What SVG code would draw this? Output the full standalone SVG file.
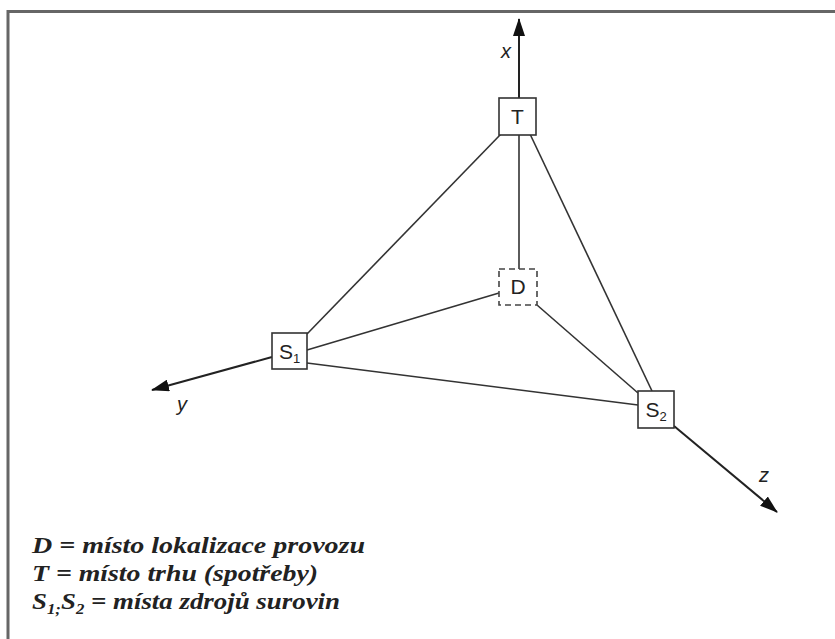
<svg xmlns="http://www.w3.org/2000/svg" width="835" height="639" viewBox="0 0 835 639">
<style>
.box{fill:#fff;stroke:#333;stroke-width:1.6}
.dbox{fill:#fff;stroke:#444;stroke-width:1.6;stroke-dasharray:6 4}
.lbl{font-family:"Liberation Sans",Arial,sans-serif;font-size:21px;fill:#222;text-anchor:middle}
.sub{font-size:13px}
.ax{font-family:"Liberation Sans",Arial,sans-serif;font-size:20px;font-style:italic;fill:#222}
.edge{stroke:#333;stroke-width:1.6;fill:none}
.axis{stroke:#222;stroke-width:2;fill:none}
.leg{font-family:"Liberation Serif","Times New Roman",serif;font-size:24px;font-style:italic;font-weight:bold;fill:#222}
</style>
<defs>
<marker id="arrL" markerWidth="18" markerHeight="12" refX="17" refY="6" orient="auto" markerUnits="userSpaceOnUse" viewBox="0 0 18 12">
<path d="M0,0 L18,6 L0,12 Z" fill="#111"/>
</marker>
</defs>
<rect width="835" height="639" fill="#fff"/>
<path d="M8,639 V11.5 H835" fill="none" stroke="#666" stroke-width="3"/>
<g id="connectors">
<line class="axis" x1="519" y1="98" x2="519" y2="19" marker-end="url(#arrL)"/>
<line class="axis" x1="272" y1="357" x2="152" y2="390" marker-end="url(#arrL)"/>
<line class="axis" x1="674" y1="426" x2="777" y2="512" marker-end="url(#arrL)"/>
<line class="edge" x1="519" y1="134" x2="519" y2="269" stroke="#777"/>
<line class="edge" x1="501" y1="134" x2="307" y2="334"/>
<line class="edge" x1="530" y1="134" x2="652" y2="391"/>
<line class="edge" x1="499" y1="293" x2="307" y2="350"/>
<line class="edge" x1="537" y1="305" x2="638" y2="393"/>
<line class="edge" x1="307" y1="363" x2="638" y2="405"/>
</g>
<g id="T">
<rect class="box" x="499" y="98" width="37" height="37"/>
<text class="lbl" x="517.5" y="124">T</text>
</g>
<g id="D">
<rect class="dbox" x="499" y="269" width="38" height="36"/>
<text class="lbl" x="518" y="294">D</text>
</g>
<g id="S1">
<rect class="box" x="272" y="333" width="35" height="36"/>
<text class="lbl" x="289.5" y="359">S<tspan class="sub" dy="4">1</tspan></text>
</g>
<g id="S2">
<rect class="box" x="638" y="391" width="36" height="37"/>
<text class="lbl" x="656" y="417">S<tspan class="sub" dy="4">2</tspan></text>
</g>
<text class="ax" x="501" y="58">x</text>
<text class="ax" x="177" y="411">y</text>
<text class="ax" x="759" y="482">z</text>
<text class="leg" x="32" y="553" textLength="333" lengthAdjust="spacingAndGlyphs">D = místo lokalizace provozu</text>
<text class="leg" x="32" y="581" textLength="286" lengthAdjust="spacingAndGlyphs">T = místo trhu (spotřeby)</text>
<text class="leg" x="32" y="609" textLength="308" lengthAdjust="spacingAndGlyphs">S<tspan font-size="15" dy="5">1;</tspan><tspan dy="-5">S</tspan><tspan font-size="15" dy="5">2</tspan><tspan dy="-5"> = místa zdrojů surovin</tspan></text>
</svg>
